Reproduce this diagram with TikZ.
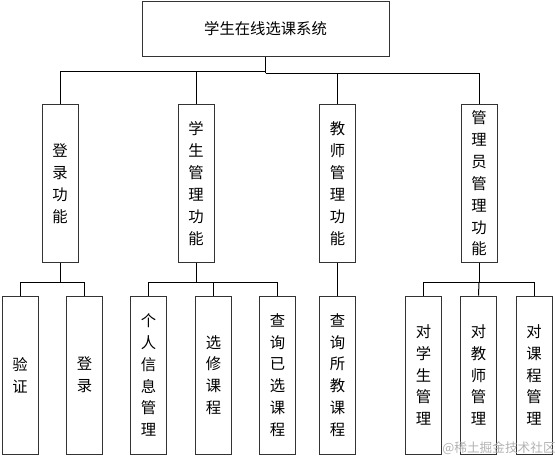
\documentclass[tikz,border=0pt]{standalone}
\usepackage{fontspec}
\newfontfamily\cjk{Noto Sans CJK SC}
\usetikzlibrary{calc}
\tikzset{
  boxtop/.style={draw=black!80, line width=0.75pt, rectangle, inner sep=0pt,
    minimum width=185.25pt, minimum height=41.25pt,
    font=\cjk\fontsize{11.5pt}{14pt}\selectfont},
  vbox/.style={draw=black!80, line width=0.75pt, rectangle, inner sep=0pt,
    minimum width=27pt, minimum height=118pt, align=center,
    font=\cjk\fontsize{11.5pt}{16.4pt}\selectfont},
  conn/.style={draw=black, line width=0.75pt},
  wm/.style={font=\cjk\fontsize{9.5pt}{11pt}\selectfont, text=black!30, inner sep=0pt}
}
\begin{document}
\begin{tikzpicture}[x=0.75pt,y=-0.75pt]
\useasboundingbox (0,0) rectangle (555,458);
\node[boxtop] (top) at (265.5,29) {学生在线选课系统};
% level 2
\node[vbox] (a) at (60,183.5) {登\\录\\功\\能};
\node[vbox] (b) at (196,183.5) {学\\生\\管\\理\\功\\能};
\node[vbox] (c) at (337.5,183.5) {教\\师\\管\\理\\功\\能};
\node[vbox] (d) at (479,183.5) {管\\理\\员\\管\\理\\功\\能};
% level 3
\node[vbox, minimum height=118.5pt] (a1) at (20,375) {验\\证};
\node[vbox, minimum height=118.5pt] (a2) at (84.5,375) {登\\录};
\node[vbox, minimum height=118.5pt] (b1) at (148.5,375) {个\\人\\信\\息\\管\\理};
\node[vbox, minimum height=118.5pt] (b2) at (213.5,375) {选\\修\\课\\程};
\node[vbox, minimum height=118.5pt] (b3) at (277.5,375) {查\\询\\已\\选\\课\\程};
\node[vbox, minimum height=118.5pt] (c1) at (337.5,375) {查\\询\\所\\教\\课\\程};
\node[vbox, minimum height=118.5pt] (d1) at (423.5,375) {对\\学\\生\\管\\理};
\node[vbox, minimum height=118.5pt] (d2) at (478.5,375) {对\\教\\师\\管\\理};
\node[vbox, minimum height=118.5pt] (d3) at (534,375) {对\\课\\程\\管\\理};
% connectors top
\coordinate (busL) at (265,71);
\coordinate (busR) at (265,73);
\coordinate (bus3) at (0,282);
\draw[conn] (top.south) -- (top.south |- busR);
\draw[conn] (top.south |- busL) -| (a.north);
\draw[conn] (top.south |- busL) -| (b.north);
\draw[conn] (top.south |- busR) -| (c.north);
\draw[conn] (top.south |- busR) -| (d.north);
% connectors level 2 -> 3
\draw[conn] (a.south) -- (a.south |- bus3);
\draw[conn] (a.south |- bus3) -| (a1.north);
\draw[conn] (a.south |- bus3) -| (a2.north);
\draw[conn] (b.south) -- (b.south |- bus3);
\draw[conn] (b.south |- bus3) -| (b1.north);
\draw[conn] (b.south |- bus3) -| (b2.north);
\draw[conn] (b.south |- bus3) -| (b3.north);
\draw[conn] (c.south) -- (c1.north);
\draw[conn] (d.south) -- (d.south |- bus3);
\draw[conn] (d.south |- bus3) -| (d1.north);
\draw[conn] (d.south |- bus3) -- (d2.north);
\draw[conn] (d.south |- bus3) -| (d3.north);
% watermark
\node[wm] (wmk) at (499,448) {@稀土掘金技术社区};
\end{tikzpicture}
\end{document}
